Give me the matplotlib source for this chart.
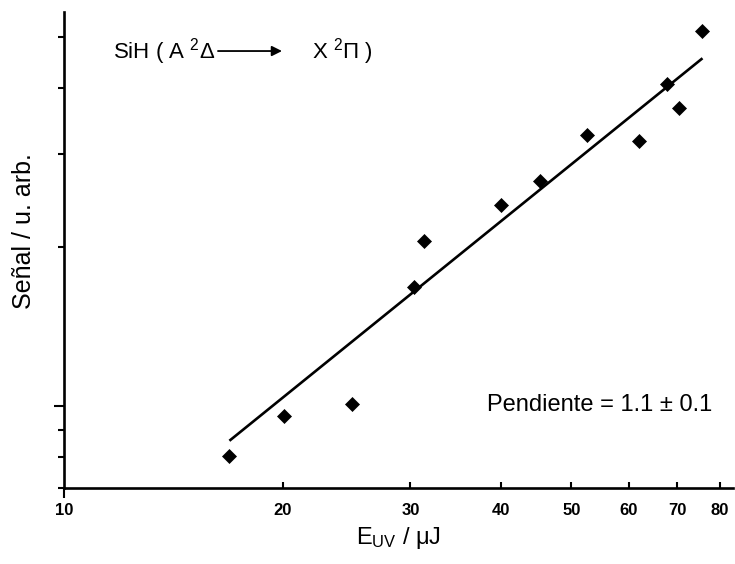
import matplotlib
matplotlib.use("Agg")
import matplotlib.pyplot as plt
from matplotlib.ticker import FixedLocator, FixedFormatter, NullFormatter

plt.rcParams['font.family'] = ['Liberation Sans', 'DejaVu Sans']
plt.rcParams['mathtext.default'] = 'regular'

# data
energy_uJ = [16.9, 20.1, 24.9, 30.4, 31.3, 40.0, 45.2, 52.5, 61.9, 67.7, 70.3, 75.7]
signal = [0.804, 0.957, 1.009, 1.68, 2.05, 2.40, 2.67, 3.26, 3.18, 4.07, 3.67, 5.13]
fit_x = [16.9, 75.8]
fit_y = [0.859, 4.56]
x_major = [10]
x_minor = [20, 30, 40, 50, 60, 70, 80]
x_minor_labels = ['20', '30', '40', '50', '60', '70', '80']
y_major = [1]
y_minor = [0.7, 0.8, 0.9, 2, 3, 4, 5]

fig = plt.figure(figsize=(7.35, 5.64), dpi=100)
ax = fig.add_axes([64/735, 76/564, 669/735, 476/564])

ax.plot(fit_x, fit_y, color='black', lw=1.9, solid_capstyle='butt')
ax.plot(energy_uJ, signal, linestyle='none', marker='D', ms=7, color='black', mec='black', mew=0.5)

ax.set_xscale('log')
ax.set_yscale('log')
ax.set_xlim(10, 83.5)
ax.set_ylim(0.699, 5.58)

for s in ['top', 'right']:
    ax.spines[s].set_visible(False)
for s in ['left', 'bottom']:
    ax.spines[s].set_linewidth(1.9)

ax.xaxis.set_major_locator(FixedLocator(x_major))
ax.xaxis.set_minor_locator(FixedLocator(x_minor))
ax.xaxis.set_major_formatter(FixedFormatter(['10']))
ax.xaxis.set_minor_formatter(FixedFormatter(x_minor_labels))
ax.yaxis.set_major_locator(FixedLocator(y_major))
ax.yaxis.set_minor_locator(FixedLocator(y_minor))
ax.yaxis.set_major_formatter(NullFormatter())
ax.yaxis.set_minor_formatter(NullFormatter())

ax.tick_params(axis='x', which='major', direction='out', length=7, width=1.5, pad=4,
               labelsize=12)
ax.tick_params(axis='x', which='minor', direction='in', length=4, width=1.5, pad=11,
               labelsize=12)
ax.tick_params(axis='y', which='major', direction='out', length=7, width=1.5)
ax.tick_params(axis='y', which='minor', direction='out', length=4, width=1.5)
for lab in ax.get_xticklabels(which='both'):
    lab.set_fontweight('bold')

ax.set_xlabel(r'E$_{UV}$ / μJ', fontsize=17, labelpad=5)
ax.set_ylabel('Señal / u. arb.', fontsize=18, labelpad=10, y=0.54)

ax.text(0.632, 0.174, 'Pendiente = 1.1 ± 0.1', transform=ax.transAxes,
        fontsize=17, ha='left', va='center')
ax.text(0.073, 0.916, r'SiH ( A $^{2}$Δ', transform=ax.transAxes,
        fontsize=16, ha='left', va='center')
ax.annotate('', xy=(0.330, 0.918), xytext=(0.226, 0.918), xycoords='axes fraction',
            arrowprops=dict(arrowstyle='-|>', color='black', lw=1.3, mutation_scale=15))
ax.text(0.370, 0.916, r'X $^{2}$Π )', transform=ax.transAxes,
        fontsize=16, ha='left', va='center')

fig.savefig('out.png', dpi=100)
